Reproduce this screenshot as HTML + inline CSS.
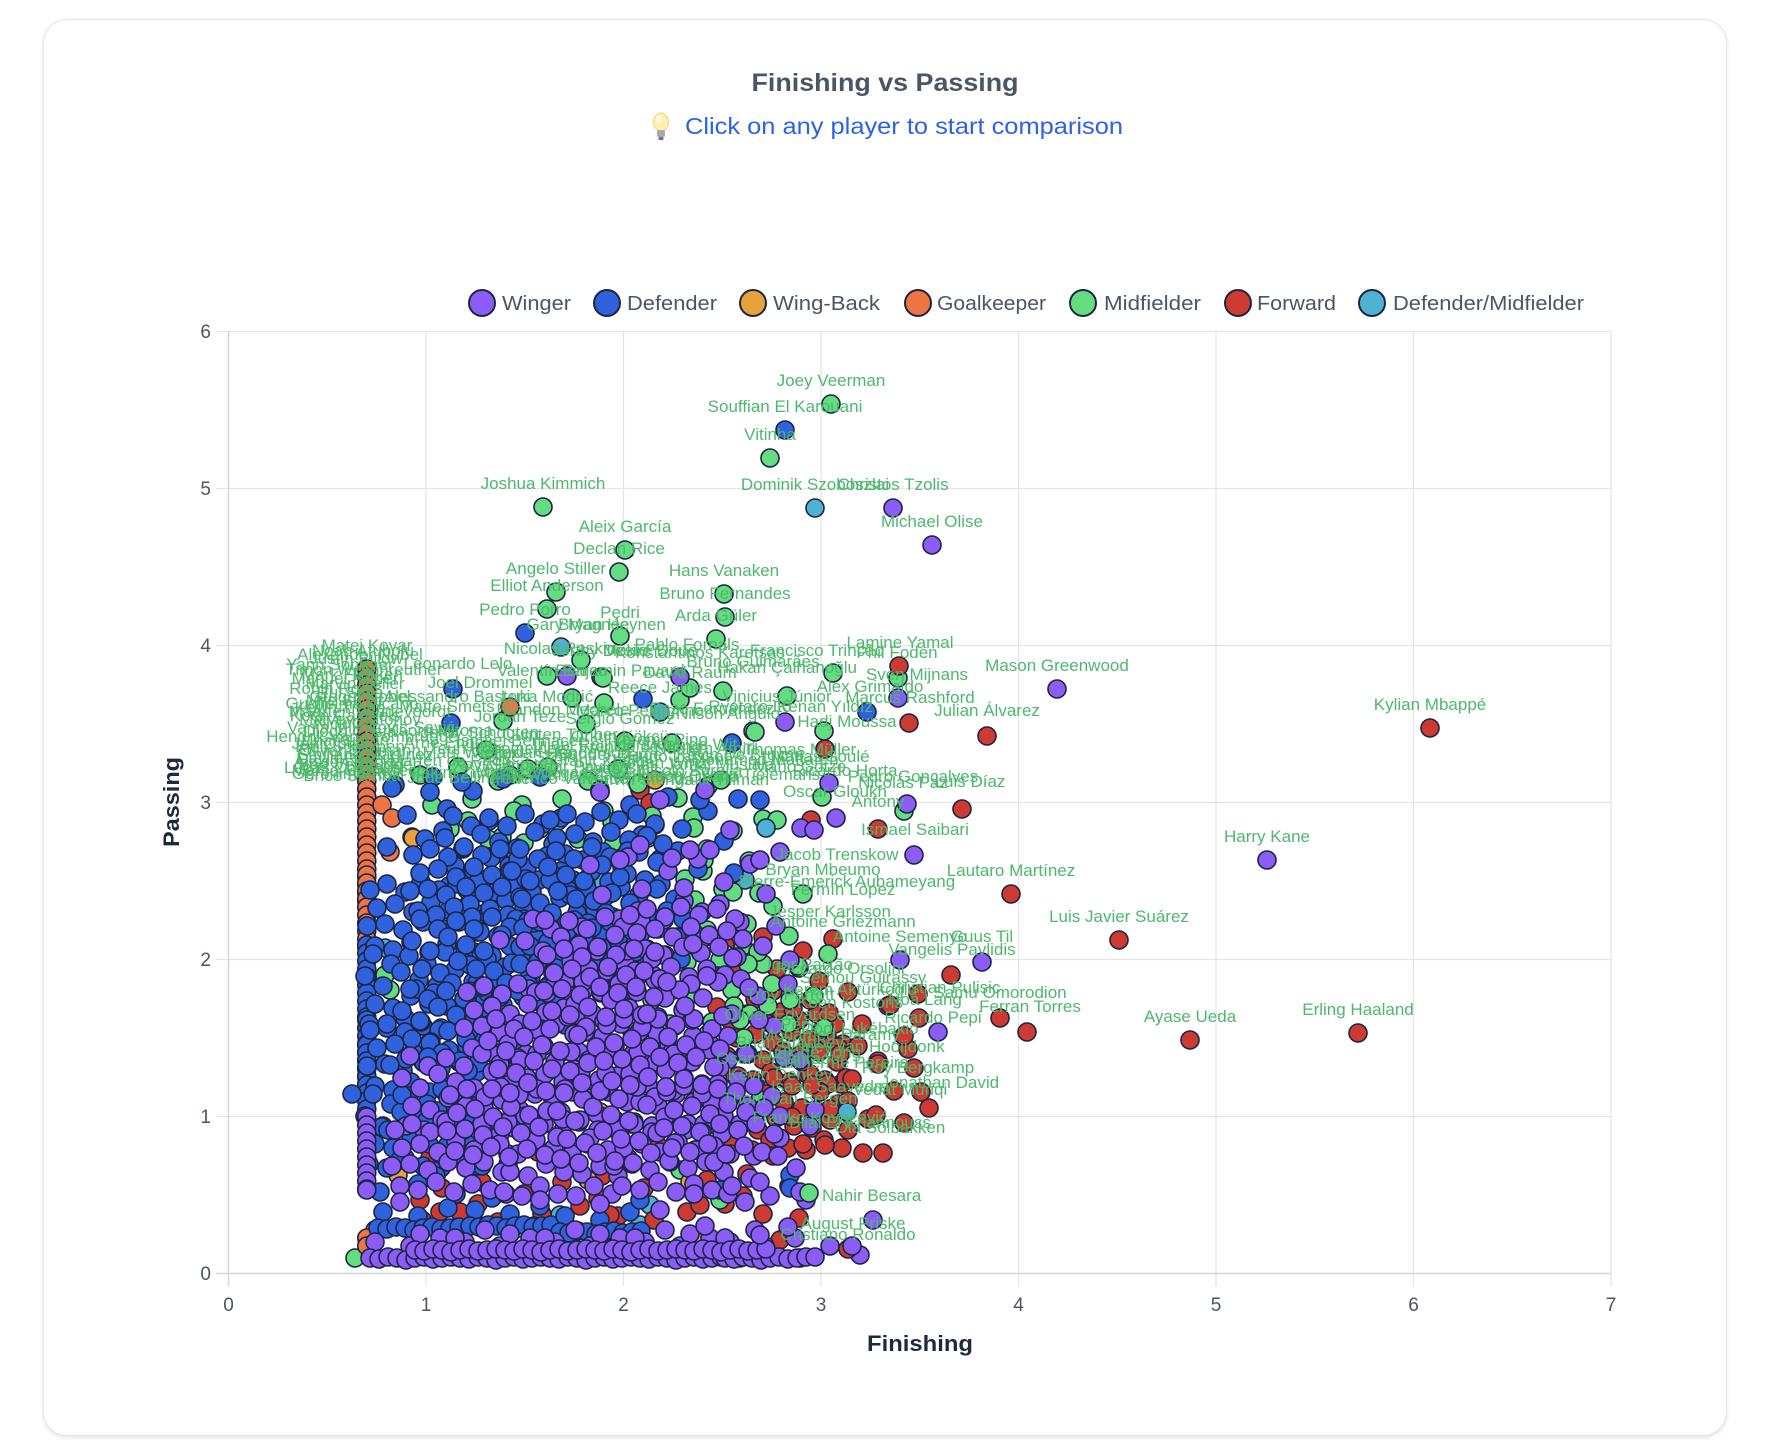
<!DOCTYPE html>
<html>
<head>
<meta charset="utf-8">
<style>
html,body{margin:0;padding:0;background:#ffffff;}
body{width:1766px;height:1454px;position:relative;overflow:hidden;font-family:"Liberation Sans","DejaVu Sans",sans-serif;}
.card{position:absolute;left:43px;top:19px;width:1682px;height:1415px;border-radius:24px;background:#fff;border:1px solid #e3e5e9;box-shadow:0 2px 5px rgba(0,0,0,0.10);}
svg{position:absolute;left:0;top:0;}
</style>
</head>
<body>
<div class="card"></div>
<svg width="1766" height="1454" viewBox="0 0 1766 1454" xmlns="http://www.w3.org/2000/svg" xmlns:xlink="http://www.w3.org/1999/xlink" font-family="Liberation Sans, DejaVu Sans, sans-serif">
<defs>
<g id="A">
<circle cx="-55" cy="-30" r="9"/><circle cx="-38" cy="-36" r="9"/><circle cx="-20" cy="-28" r="9"/><circle cx="-4" cy="-38" r="9"/><circle cx="14" cy="-30" r="9"/><circle cx="32" cy="-36" r="9"/><circle cx="50" cy="-26" r="9"/>
<circle cx="-48" cy="-12" r="9"/><circle cx="-30" cy="-16" r="9"/><circle cx="-12" cy="-8" r="9"/><circle cx="6" cy="-18" r="9"/><circle cx="24" cy="-10" r="9"/><circle cx="42" cy="-14" r="9"/><circle cx="58" cy="-6" r="9"/>
<circle cx="-58" cy="6" r="9"/><circle cx="-40" cy="4" r="9"/><circle cx="-22" cy="10" r="9"/><circle cx="-2" cy="2" r="9"/><circle cx="16" cy="8" r="9"/><circle cx="34" cy="2" r="9"/><circle cx="52" cy="12" r="9"/>
<circle cx="-50" cy="26" r="9"/><circle cx="-32" cy="30" r="9"/><circle cx="-14" cy="22" r="9"/><circle cx="4" cy="32" r="9"/><circle cx="22" cy="24" r="9"/><circle cx="40" cy="30" r="9"/><circle cx="56" cy="34" r="9"/>
</g>
<g id="B">
<circle cx="-52" cy="-36" r="9"/><circle cx="-34" cy="-26" r="9"/><circle cx="-16" cy="-34" r="9"/><circle cx="2" cy="-26" r="9"/><circle cx="20" cy="-38" r="9"/><circle cx="38" cy="-28" r="9"/><circle cx="56" cy="-34" r="9"/>
<circle cx="-60" cy="-14" r="9"/><circle cx="-42" cy="-4" r="9"/><circle cx="-24" cy="-18" r="9"/><circle cx="-6" cy="-10" r="9"/><circle cx="12" cy="-4" r="9"/><circle cx="30" cy="-20" r="9"/><circle cx="48" cy="-8" r="9"/>
<circle cx="-50" cy="14" r="9"/><circle cx="-32" cy="18" r="9"/><circle cx="-14" cy="6" r="9"/><circle cx="4" cy="14" r="9"/><circle cx="22" cy="16" r="9"/><circle cx="40" cy="8" r="9"/><circle cx="58" cy="18" r="9"/>
<circle cx="-56" cy="34" r="9"/><circle cx="-38" cy="38" r="9"/><circle cx="-20" cy="28" r="9"/><circle cx="-2" cy="36" r="9"/><circle cx="16" cy="38" r="9"/><circle cx="34" cy="28" r="9"/><circle cx="52" cy="36" r="9"/>
</g>
<g id="S">
<circle cx="-50" cy="-30" r="9"/><circle cx="-12" cy="-38" r="9"/><circle cx="28" cy="-24" r="9"/><circle cx="58" cy="-36" r="9"/><circle cx="-38" cy="0" r="9"/><circle cx="2" cy="-6" r="9"/><circle cx="44" cy="6" r="9"/><circle cx="-58" cy="32" r="9"/><circle cx="-20" cy="24" r="9"/><circle cx="18" cy="34" r="9"/><circle cx="54" cy="38" r="9"/><circle cx="-2" cy="16" r="9"/>
</g>
<g id="K">
<circle cx="0" cy="0" r="9"/><circle cx="0" cy="8" r="9"/><circle cx="0" cy="16" r="9"/><circle cx="0" cy="24" r="9"/><circle cx="0" cy="32" r="9"/><circle cx="0" cy="40" r="9"/><circle cx="0" cy="48" r="9"/><circle cx="0" cy="56" r="9"/><circle cx="0" cy="64" r="9"/><circle cx="0" cy="72" r="9"/>
</g>
<g id="W">
<circle cx="5" cy="-16" r="9"/><circle cx="40" cy="-12" r="9"/><circle cx="70" cy="-20" r="9"/>
<circle cx="0" cy="0" r="9"/><circle cx="9" cy="1" r="9"/><circle cx="18" cy="-1" r="9"/><circle cx="27" cy="0" r="9"/><circle cx="36" cy="2" r="9"/><circle cx="45" cy="0" r="9"/><circle cx="54" cy="-1" r="9"/><circle cx="63" cy="1" r="9"/><circle cx="72" cy="0" r="9"/><circle cx="81" cy="-1" r="9"/>
</g>
</defs>

<!-- title -->
<text x="885" y="91" text-anchor="middle" font-size="25" font-weight="bold" fill="#4b5563" textLength="267" lengthAdjust="spacingAndGlyphs">Finishing vs Passing</text>
<!-- bulb -->
<ellipse cx="661" cy="122" rx="7.5" ry="9" fill="#fdf1b0" stroke="#f1d37a" stroke-width="1"/>
<ellipse cx="659" cy="119" rx="3" ry="4" fill="#fffbe3"/>
<rect x="657" y="130" width="8" height="7" rx="1.5" fill="#a9abb0"/>
<rect x="658.5" y="137" width="5" height="3" rx="1" fill="#6b7280"/>
<text x="685" y="134" font-size="23" fill="#2b62e8" textLength="438" lengthAdjust="spacingAndGlyphs">Click on any player to start comparison</text>

<!-- legend -->
<g stroke="#1c2542" stroke-width="2">
<circle cx="482" cy="303" r="13" fill="#8b5cf6"/>
<circle cx="607" cy="303" r="13" fill="#3062de"/>
<circle cx="753" cy="303" r="13" fill="#e9a23b"/>
<circle cx="918" cy="303" r="13" fill="#ef7444"/>
<circle cx="1083" cy="303" r="13" fill="#64dd80"/>
<circle cx="1238" cy="303" r="13" fill="#cd3a31"/>
<circle cx="1372" cy="303" r="13" fill="#4fb2d2"/>
</g>
<g font-size="20" fill="#4b5563">
<text x="502" y="310" textLength="69" lengthAdjust="spacingAndGlyphs">Winger</text>
<text x="627" y="310" textLength="90" lengthAdjust="spacingAndGlyphs">Defender</text>
<text x="773" y="310" textLength="107" lengthAdjust="spacingAndGlyphs">Wing-Back</text>
<text x="937" y="310" textLength="109" lengthAdjust="spacingAndGlyphs">Goalkeeper</text>
<text x="1104" y="310" textLength="97" lengthAdjust="spacingAndGlyphs">Midfielder</text>
<text x="1257" y="310" textLength="79" lengthAdjust="spacingAndGlyphs">Forward</text>
<text x="1393" y="310" textLength="191" lengthAdjust="spacingAndGlyphs">Defender/Midfielder</text>
</g>

<!-- grid -->
<g stroke="#e4e5e8" stroke-width="1.3">
<line x1="426" y1="331" x2="426" y2="1286"/>
<line x1="623.5" y1="331" x2="623.5" y2="1286"/>
<line x1="821" y1="331" x2="821" y2="1286"/>
<line x1="1018.5" y1="331" x2="1018.5" y2="1286"/>
<line x1="1216" y1="331" x2="1216" y2="1286"/>
<line x1="1413.5" y1="331" x2="1413.5" y2="1286"/>
<line x1="1611" y1="331" x2="1611" y2="1286"/>
<line x1="216" y1="331.5" x2="1611" y2="331.5"/>
<line x1="216" y1="488.5" x2="1611" y2="488.5"/>
<line x1="216" y1="645.5" x2="1611" y2="645.5"/>
<line x1="216" y1="802.5" x2="1611" y2="802.5"/>
<line x1="216" y1="959.5" x2="1611" y2="959.5"/>
<line x1="216" y1="1116.5" x2="1611" y2="1116.5"/>
</g>
<g stroke="#d3d5d9" stroke-width="1.5">
<line x1="228.5" y1="331" x2="228.5" y2="1286"/>
<line x1="216" y1="1273.5" x2="1611" y2="1273.5"/>
</g>

<!-- ticks -->
<g font-size="19" fill="#4b5563" text-anchor="end">
<text x="211" y="338">6</text>
<text x="211" y="495">5</text>
<text x="211" y="652">4</text>
<text x="211" y="809">3</text>
<text x="211" y="966">2</text>
<text x="211" y="1123">1</text>
<text x="211" y="1280">0</text>
</g>
<g font-size="19" fill="#4b5563" text-anchor="middle">
<text x="228.5" y="1311">0</text>
<text x="426" y="1311">1</text>
<text x="623.5" y="1311">2</text>
<text x="821" y="1311">3</text>
<text x="1018.5" y="1311">4</text>
<text x="1216" y="1311">5</text>
<text x="1413.5" y="1311">6</text>
<text x="1611" y="1311">7</text>
</g>
<text x="920" y="1351" text-anchor="middle" font-size="22" font-weight="bold" fill="#1e293b" textLength="106" lengthAdjust="spacingAndGlyphs">Finishing</text>
<text transform="translate(179,802) rotate(-90)" x="0" y="0" text-anchor="middle" font-size="22" font-weight="bold" fill="#1e293b" textLength="90" lengthAdjust="spacingAndGlyphs">Passing</text>

<!-- dense cloud -->
<g stroke="#1c2542" stroke-width="1.6">
<!-- Defender/Midfielder -->
<g fill="#4fb2d2">
<circle cx="560" cy="1215" r="9"/><circle cx="640" cy="1225" r="9"/><circle cx="700" cy="1040" r="9"/><circle cx="680" cy="900" r="9"/><circle cx="600" cy="880" r="9"/><circle cx="500" cy="980" r="9"/><circle cx="420" cy="1225" r="9"/><circle cx="470" cy="1222" r="9"/><circle cx="612" cy="1228" r="9"/><circle cx="745" cy="880" r="9"/><circle cx="650" cy="1205" r="9"/><circle cx="385" cy="948" r="9"/>
</g>
<!-- Forward -->
<use href="#A" x="785" y="1050" fill="#cd3a31"/>
<use href="#B" x="790" y="1112" fill="#cd3a31"/>
<use href="#S" x="850" y="1085" fill="#cd3a31"/>
<use href="#S" x="860" y="1030" fill="#cd3a31"/>
<use href="#S" x="775" y="975" fill="#cd3a31"/>
<use href="#S" x="745" y="1180" fill="#cd3a31"/>
<use href="#S" x="600" y="1182" fill="#cd3a31"/>
<use href="#S" x="480" y="1188" fill="#cd3a31"/>
<g fill="#cd3a31">
<circle cx="440" cy="1212" r="9"/><circle cx="480" cy="1226" r="9"/><circle cx="420" cy="1200" r="9"/><circle cx="610" cy="1215" r="9"/><circle cx="740" cy="1258" r="9"/><circle cx="770" cy="1256" r="9"/><circle cx="700" cy="1255" r="9"/><circle cx="650" cy="1250" r="9"/><circle cx="800" cy="1258" r="9"/><circle cx="780" cy="1240" r="9"/><circle cx="700" cy="1205" r="9"/><circle cx="640" cy="790" r="9"/><circle cx="650" cy="803" r="9"/>
</g>
<!-- Midfielder -->
<use href="#S" x="705" y="855" fill="#64dd80"/>
<use href="#S" x="745" y="930" fill="#64dd80"/>
<use href="#S" x="770" y="990" fill="#64dd80"/>
<use href="#S" x="560" y="805" fill="#64dd80"/>
<use href="#S" x="470" y="805" fill="#64dd80"/>
<use href="#S" x="650" y="822" fill="#64dd80"/>
<use href="#S" x="690" y="1000" fill="#64dd80"/>
<g fill="#64dd80">
<circle cx="547" cy="676" r="9"/><circle cx="572" cy="698" r="9"/><circle cx="586" cy="724" r="9"/><circle cx="601" cy="677" r="9"/><circle cx="604" cy="703" r="9"/><circle cx="625" cy="741" r="9"/><circle cx="680" cy="700" r="9"/><circle cx="723" cy="691" r="9"/><circle cx="753" cy="731" r="9"/><circle cx="486" cy="750" r="9"/><circle cx="503" cy="721" r="9"/><circle cx="672" cy="743" r="9"/><circle cx="721" cy="780" r="9"/><circle cx="680" cy="1170" r="9"/><circle cx="560" cy="1226" r="9"/><circle cx="598" cy="1230" r="9"/><circle cx="355" cy="1258" r="9"/><circle cx="520" cy="1228" r="9"/><circle cx="760" cy="1100" r="9"/><circle cx="790" cy="1000" r="9"/><circle cx="740" cy="1020" r="9"/><circle cx="700" cy="1090" r="9"/><circle cx="385" cy="975" r="9"/><circle cx="390" cy="990" r="9"/><circle cx="720" cy="1200" r="9"/>
</g>
<!-- Goalkeeper -->
<use href="#K" x="366.75" y="669" fill="#ef7444"/>
<use href="#K" x="366.75" y="749" fill="#ef7444"/>
<use href="#K" x="366.75" y="829" fill="#ef7444"/>
<use href="#K" x="366.75" y="875" fill="#ef7444"/>
<g fill="#ef7444">
<circle cx="382" cy="805" r="9"/><circle cx="392" cy="818" r="9"/><circle cx="390" cy="852" r="9"/><circle cx="375" cy="1230" r="9"/><circle cx="366.75" cy="1238" r="9"/><circle cx="366.75" cy="1246" r="9"/>
</g>
<!-- Wing-Back -->
<g fill="#e9a23b">
<circle cx="620" cy="935" r="9"/><circle cx="693" cy="935" r="9"/><circle cx="705" cy="937" r="9"/><circle cx="520" cy="1040" r="9"/><circle cx="430" cy="1042" r="9"/><circle cx="600" cy="1112" r="9"/><circle cx="690" cy="1182" r="9"/><circle cx="700" cy="1240" r="9"/><circle cx="470" cy="1030" r="9"/><circle cx="413" cy="838" r="9"/><circle cx="655" cy="780" r="9"/><circle cx="520" cy="870" r="9"/><circle cx="712" cy="975" r="9"/><circle cx="398" cy="1175" r="9"/><circle cx="588" cy="1180" r="9"/>
</g>
<!-- Defender -->
<use href="#K" x="366.75" y="945" fill="#3062de"/>
<use href="#K" x="366.75" y="1020" fill="#3062de"/>
<use href="#K" x="366.75" y="1045" fill="#3062de"/>
<use href="#S" x="680" y="835" fill="#3062de"/>
<use href="#S" x="445" y="815" fill="#3062de"/>
<use href="#B" x="505" y="852" fill="#3062de"/>
<use href="#A" x="605" y="850" fill="#3062de"/>
<use href="#A" x="425" y="920" fill="#3062de"/>
<use href="#B" x="530" y="918" fill="#3062de"/>
<use href="#A" x="625" y="925" fill="#3062de"/>
<use href="#B" x="425" y="990" fill="#3062de"/>
<use href="#A" x="525" y="995" fill="#3062de"/>
<use href="#A" x="425" y="1060" fill="#3062de"/>
<use href="#B" x="425" y="1130" fill="#3062de"/>
<use href="#A" x="468" y="885" fill="#3062de"/>
<use href="#B" x="572" y="885" fill="#3062de"/>
<use href="#B" x="472" y="955" fill="#3062de"/>
<use href="#A" x="578" y="958" fill="#3062de"/>
<use href="#B" x="462" y="1025" fill="#3062de"/>
<use href="#S" x="440" y="1095" fill="#3062de"/>
<use href="#S" x="438" y="1160" fill="#3062de"/>
<use href="#W" x="378" y="1228" fill="#3062de"/>
<use href="#W" x="470" y="1226" fill="#3062de"/>
<use href="#W" x="560" y="1232" fill="#3062de"/>
<g fill="#3062de">
<circle cx="462" cy="782" r="9"/><circle cx="540" cy="777" r="9"/><circle cx="600" cy="790" r="9"/><circle cx="430" cy="792" r="9"/><circle cx="392" cy="788" r="9"/><circle cx="352" cy="1094" r="9"/><circle cx="700" cy="800" r="9"/><circle cx="720" cy="1190" r="9"/><circle cx="790" cy="1175" r="9"/><circle cx="790" cy="1188" r="9"/><circle cx="640" cy="1200" r="9"/><circle cx="760" cy="800" r="9"/>
</g>
<!-- Winger -->
<use href="#K" x="366.75" y="1117" fill="#8b5cf6"/>
<use href="#S" x="640" y="895" fill="#8b5cf6"/>
<use href="#S" x="722" y="888" fill="#8b5cf6"/>
<use href="#B" x="585" y="955" fill="#8b5cf6"/>
<use href="#A" x="685" y="945" fill="#8b5cf6"/>
<use href="#A" x="522" y="1022" fill="#8b5cf6"/>
<use href="#B" x="635" y="1018" fill="#8b5cf6"/>
<use href="#S" x="730" y="1020" fill="#8b5cf6"/>
<use href="#B" x="462" y="1092" fill="#8b5cf6"/>
<use href="#A" x="575" y="1090" fill="#8b5cf6"/>
<use href="#B" x="690" y="1088" fill="#8b5cf6"/>
<use href="#A" x="450" y="1160" fill="#8b5cf6"/>
<use href="#B" x="560" y="1158" fill="#8b5cf6"/>
<use href="#A" x="672" y="1160" fill="#8b5cf6"/>
<use href="#S" x="752" y="1162" fill="#8b5cf6"/>
<use href="#A" x="505" y="1125" fill="#8b5cf6"/>
<use href="#B" x="617" y="1125" fill="#8b5cf6"/>
<use href="#A" x="722" y="1122" fill="#8b5cf6"/>
<use href="#B" x="548" y="1055" fill="#8b5cf6"/>
<use href="#A" x="662" y="1055" fill="#8b5cf6"/>
<use href="#A" x="602" y="985" fill="#8b5cf6"/>
<use href="#S" x="705" y="982" fill="#8b5cf6"/>
<use href="#W" x="370" y="1258" fill="#8b5cf6"/>
<use href="#W" x="460" y="1258" fill="#8b5cf6"/>
<use href="#W" x="550" y="1258" fill="#8b5cf6"/>
<use href="#W" x="640" y="1258" fill="#8b5cf6"/>
<use href="#W" x="725" y="1258" fill="#8b5cf6"/>
<use href="#W" x="415" y="1250" fill="#8b5cf6"/>
<use href="#W" x="505" y="1250" fill="#8b5cf6"/>
<use href="#W" x="595" y="1250" fill="#8b5cf6"/>
<use href="#W" x="685" y="1250" fill="#8b5cf6"/>
<g fill="#8b5cf6">
<circle cx="366.75" cy="1190" r="9"/><circle cx="690" cy="850" r="9"/><circle cx="640" cy="845" r="9"/><circle cx="730" cy="830" r="9"/><circle cx="660" cy="800" r="9"/><circle cx="600" cy="792" r="9"/><circle cx="760" cy="860" r="9"/><circle cx="545" cy="920" r="9"/><circle cx="500" cy="940" r="9"/><circle cx="620" cy="860" r="9"/><circle cx="705" cy="790" r="9"/>
<circle cx="760" cy="1182" r="9"/><circle cx="800" cy="1192" r="9"/><circle cx="745" cy="1202" r="9"/><circle cx="400" cy="1202" r="9"/><circle cx="540" cy="1200" r="9"/><circle cx="600" cy="1204" r="9"/><circle cx="660" cy="1210" r="9"/><circle cx="705" cy="1226" r="9"/><circle cx="830" cy="1246" r="9"/><circle cx="860" cy="1255" r="9"/><circle cx="815" cy="1257" r="9"/><circle cx="815" cy="1110" r="9"/><circle cx="800" cy="1060" r="9"/><circle cx="790" cy="960" r="9"/><circle cx="760" cy="1235" r="9"/>
</g>
</g>

<!-- notable points -->
<g stroke="#1c2542" stroke-width="1.6">
<g fill="#64dd80">
<circle cx="831" cy="404" r="9"/><circle cx="770" cy="458" r="9"/><circle cx="543" cy="507" r="9"/><circle cx="625" cy="550" r="9"/><circle cx="619" cy="572" r="9"/><circle cx="724" cy="594" r="9"/><circle cx="556" cy="592" r="9"/><circle cx="547" cy="609" r="9"/><circle cx="725" cy="617" r="9"/><circle cx="620" cy="636" r="9"/><circle cx="716" cy="639" r="9"/><circle cx="898" cy="678" r="9"/><circle cx="787" cy="696" r="9"/><circle cx="833" cy="673" r="9"/><circle cx="755" cy="732" r="9"/><circle cx="824" cy="731" r="9"/><circle cx="809" cy="1193" r="9"/><circle cx="690" cy="688" r="9"/><circle cx="822" cy="797" r="9"/><circle cx="904" cy="811" r="9"/><circle cx="777" cy="820" r="9"/><circle cx="603" cy="678" r="9"/><circle cx="581" cy="660" r="9"/>
</g>
<g fill="#3062de">
<circle cx="785" cy="430" r="9"/><circle cx="525" cy="633" r="9"/><circle cx="867" cy="712" r="9"/><circle cx="732" cy="743" r="9"/><circle cx="453" cy="689" r="9"/><circle cx="451" cy="723" r="9"/><circle cx="643" cy="699" r="9"/>
</g>
<g fill="#4fb2d2">
<circle cx="815" cy="508" r="9"/><circle cx="561" cy="647" r="9"/><circle cx="660" cy="712" r="9"/><circle cx="766" cy="828" r="9"/><circle cx="847" cy="1112" r="9"/>
</g>
<g fill="#ef7444">
<circle cx="510" cy="707" r="9"/>
</g>
<g fill="#cd3a31">
<circle cx="1430" cy="728" r="9"/><circle cx="899" cy="666" r="9"/><circle cx="987" cy="736" r="9"/><circle cx="909" cy="723" r="9"/><circle cx="1011" cy="894" r="9"/><circle cx="1119" cy="940" r="9"/><circle cx="1190" cy="1040" r="9"/><circle cx="1358" cy="1033" r="9"/><circle cx="1000" cy="1018" r="9"/><circle cx="1027" cy="1032" r="9"/><circle cx="962" cy="809" r="9"/><circle cx="878" cy="829" r="9"/><circle cx="825" cy="749" r="9"/><circle cx="951" cy="975" r="9"/><circle cx="825" cy="1145" r="9"/><circle cx="863" cy="1153" r="9"/><circle cx="883" cy="1153" r="9"/><circle cx="929" cy="1108" r="9"/><circle cx="921" cy="1092" r="9"/><circle cx="876" cy="1115" r="9"/><circle cx="811" cy="820" r="9"/><circle cx="848" cy="1249" r="9"/><circle cx="919" cy="1018" r="9"/><circle cx="890" cy="1005" r="9"/>
</g>
<g fill="#8b5cf6">
<circle cx="893" cy="508" r="9"/><circle cx="932" cy="545" r="9"/><circle cx="1057" cy="689" r="9"/><circle cx="1267" cy="860" r="9"/><circle cx="914" cy="855" r="9"/><circle cx="982" cy="962" r="9"/><circle cx="900" cy="960" r="9"/><circle cx="898" cy="698" r="9"/><circle cx="785" cy="722" r="9"/><circle cx="873" cy="1220" r="9"/><circle cx="788" cy="1227" r="9"/><circle cx="852" cy="1246" r="9"/><circle cx="829" cy="783" r="9"/><circle cx="836" cy="818" r="9"/><circle cx="907" cy="804" r="9"/><circle cx="801" cy="828" r="9"/><circle cx="814" cy="830" r="9"/><circle cx="938" cy="1032" r="9"/><circle cx="567" cy="676" r="9"/><circle cx="680" cy="677" r="9"/>
</g>
</g>

<!-- labels -->
<g font-size="17" fill="#4db86c" text-anchor="middle" font-family="Liberation Sans, DejaVu Sans, sans-serif">
<text x="831" y="386">Joey Veerman</text>
<text x="785" y="412">Souffian El Karouani</text>
<text x="770" y="440">Vitinha</text>
<text x="815" y="490">Dominik Szoboszlai</text>
<text x="893" y="490">Christos Tzolis</text>
<text x="932" y="527">Michael Olise</text>
<text x="543" y="489">Joshua Kimmich</text>
<text x="625" y="532">Aleix García</text>
<text x="619" y="554">Declan Rice</text>
<text x="724" y="576">Hans Vanaken</text>
<text x="556" y="574">Angelo Stiller</text>
<text x="547" y="591">Elliot Anderson</text>
<text x="725" y="599">Bruno Fernandes</text>
<text x="525" y="615">Pedro Porro</text>
<text x="620" y="618">Pedri</text>
<text x="716" y="621">Arda Güler</text>
<text x="578" y="630">Gary Magnée</text>
<text x="612" y="630">Bryan Heynen</text>
<text x="1057" y="671">Mason Greenwood</text>
<text x="1430" y="710">Kylian Mbappé</text>
<text x="900" y="648">Lamine Yamal</text>
<text x="897" y="658">Phil Foden</text>
<text x="817" y="656">Francisco Trincão</text>
<text x="687" y="650">Pablo Fornals</text>
<text x="560" y="654">Nicolas Raskin</text>
<text x="600" y="656">Jorthy Mokio</text>
<text x="650" y="656">Désiré Doué</text>
<text x="700" y="658">Konstantinos Karetsas</text>
<text x="917" y="680">Sven Mijnans</text>
<text x="787" y="673">Hakan Çalhanoğlu</text>
<text x="753" y="667">Bruno Guimarães</text>
<text x="552" y="676">Valentín Barco</text>
<text x="620" y="676">Benjamin Pavard</text>
<text x="690" y="678">David Raum</text>
<text x="870" y="692">Alex Grimaldo</text>
<text x="660" y="693">Reece James</text>
<text x="480" y="688">Joel Drommel</text>
<text x="458" y="669">Leonardo Lelo</text>
<text x="910" y="703">Marcus Rashford</text>
<text x="777" y="702">Vinicius Júnior</text>
<text x="547" y="702">Luka Modrić</text>
<text x="457" y="702">Alessandro Bastoni</text>
<text x="750" y="712">Ryotaro Ito</text>
<text x="825" y="712">Kenan Yıldız</text>
<text x="563" y="715">Brandon Mechele</text>
<text x="447" y="712">Matte Smets</text>
<text x="640" y="716">Marco Pellegrino</text>
<text x="712" y="714">Enzo Fernández</text>
<text x="728" y="719">Nilson Angulo</text>
<text x="987" y="716">Julian Álvarez</text>
<text x="847" y="727">Hadj Moussa</text>
<text x="620" y="724">Sergio Gómez</text>
<text x="520" y="722">Jordan Teze</text>
<!-- goalkeeper column -->
<text x="367" y="651">Matej Kovar</text>
<text x="363" y="656">Noah Atubolu</text>
<text x="360" y="660">Alexander Nübel</text>
<text x="356" y="664">Justin Bijlow</text>
<text x="340" y="670">Yann Sommer</text>
<text x="364" y="675">Timon Wellenreuther</text>
<text x="352" y="680">Mark Flekken</text>
<text x="345" y="684">Manuel Neuer</text>
<text x="355" y="689">Marvin Keller</text>
<text x="336" y="694">Robin Roefs</text>
<text x="350" y="698">Rui Silva</text>
<text x="360" y="702">Gregor Kobel</text>
<text x="345" y="706">Mile Svilar</text>
<text x="352" y="709">Guglielmo Vicario</text>
<text x="340" y="713">Kevin Trapp</text>
<text x="370" y="717">Maarten Vandevoordt</text>
<text x="345" y="721">Koen Casteels</text>
<text x="360" y="725">Matvey Safonov</text>
<text x="345" y="729">Nick Olij</text>
<text x="371" y="733">Vanja Milinković-Savić</text>
<text x="350" y="737">Diogo Costa</text>
<text x="362" y="742">Hendrik Van Crombrugge</text>
<text x="345" y="746">Unai Simón</text>
<text x="330" y="749">Jan Oblak</text>
<text x="350" y="752">Kjell Scherpen</text>
<text x="360" y="756">Oliver Baumann</text>
<text x="365" y="760">Emiliano Martínez</text>
<text x="340" y="764">David Raya</text>
<text x="350" y="767">Alisson Becker</text>
<text x="360" y="770">Bart Verbruggen</text>
<text x="345" y="773">Lucas Chevalier</text>
<text x="365" y="776">Marco Carnesecchi</text>
<text x="348" y="779">Gerónimo Rulli</text>
<text x="352" y="781">Brice Samba</text>
<!-- dense band -->
<text x="440" y="736">Kaoru Mitoma</text>
<text x="480" y="738">Jerdy Schouten</text>
<text x="560" y="740">Quinten Timber</text>
<text x="620" y="742">Orkun Kökçü</text>
<text x="660" y="745">Yeremy Pino</text>
<text x="520" y="746">Ismael Bennacer</text>
<text x="450" y="748">Arne Engels</text>
<text x="690" y="750">Mees de Wit</text>
<text x="590" y="750">Tijjani Reijnders</text>
<text x="640" y="752">Frenkie de Jong</text>
<text x="500" y="754">Teun Koopmeiners</text>
<text x="705" y="754">Nadiem Amiri</text>
<text x="800" y="755">Thomas Müller</text>
<text x="470" y="758">Mats Wieffer</text>
<text x="560" y="758">Jordan Henderson</text>
<text x="610" y="760">Sander Berge</text>
<text x="740" y="760">Kevin De Bruyne</text>
<text x="680" y="762">Hugo Larsson</text>
<text x="530" y="762">Ellyes Skhiri</text>
<text x="820" y="762">Matías Soulé</text>
<text x="765" y="765">Mohamed Ihattaren</text>
<text x="450" y="766">Marten de Roon</text>
<text x="600" y="766">Granit Xhaka</text>
<text x="660" y="768">Florian Wirtz</text>
<text x="720" y="770">Jamal Musiala</text>
<text x="500" y="770">Xavi Simons</text>
<text x="560" y="772">Aleksandar Pavlović</text>
<text x="800" y="772">Mario Götze</text>
<text x="620" y="774">Kees Smit</text>
<text x="690" y="776">Nicolò Barella</text>
<text x="845" y="776">Ricardo Horta</text>
<text x="460" y="778">Hakim Ziyech</text>
<text x="540" y="778">Martin Ødegaard</text>
<text x="610" y="780">Warren Zaïre-Emery</text>
<text x="760" y="780">Youri Tielemans</text>
<text x="680" y="782">Amadou Onana</text>
<text x="470" y="783">Jude Bellingham</text>
<text x="560" y="784">Federico Valverde</text>
<text x="640" y="785">Calvin Stengs</text>
<text x="720" y="785">Malik Tillman</text>
<!-- mid-right -->
<text x="913" y="782">Pedro Gonçalves</text>
<text x="903" y="788">Nicolás Paz</text>
<text x="970" y="787">Luis Díaz</text>
<text x="835" y="797">Oscar Gloukh</text>
<text x="878" y="807">Antony</text>
<text x="915" y="835">Ismael Saibari</text>
<text x="837" y="860">Jacob Trenskow</text>
<text x="823" y="875">Bryan Mbeumo</text>
<text x="1011" y="876">Lautaro Martínez</text>
<text x="847" y="887">Pierre-Emerick Aubameyang</text>
<text x="843" y="895">Fermín López</text>
<text x="830" y="917">Jesper Karlsson</text>
<text x="1119" y="922">Luis Javier Suárez</text>
<text x="843" y="927">Antoine Griezmann</text>
<text x="900" y="942">Antoine Semenyo</text>
<text x="982" y="942">Guus Til</text>
<text x="952" y="955">Vangelis Pavlidis</text>
<text x="1267" y="842">Harry Kane</text>
<text x="810" y="970">Igor Paixão</text>
<text x="840" y="974">Riccardo Orsolini</text>
<text x="863" y="983">Serhou Guirassy</text>
<text x="940" y="993">Christian Pulisic</text>
<text x="850" y="995">Kerem Aktürkoğlu</text>
<text x="1000" y="998">Samu Omorodion</text>
<text x="790" y="1000">Troy Parrott</text>
<text x="925" y="1005">Noa Lang</text>
<text x="850" y="1008">Koen Kostons</text>
<text x="1030" y="1012">Ferran Torres</text>
<text x="790" y="1020">Oliver Edvardsen</text>
<text x="933" y="1023">Ricardo Pepi</text>
<text x="1190" y="1022">Ayase Ueda</text>
<text x="1358" y="1015">Erling Haaland</text>
<text x="800" y="1030">Pepê</text>
<text x="860" y="1034">Dodi Lukébakio</text>
<text x="830" y="1040">Mohamed Daramy</text>
<text x="790" y="1048">Brian Brobbey</text>
<text x="860" y="1052">Sydney van Hooijdonk</text>
<text x="810" y="1058">Luuk de Jong</text>
<text x="780" y="1064">Osame Sahraoui</text>
<text x="840" y="1068">Guilherme Pereira</text>
<text x="918" y="1073">Roy Bergkamp</text>
<text x="780" y="1080">Kevin Denkey</text>
<text x="940" y="1088">Jonathan David</text>
<text x="830" y="1092">Isaac Saavedra</text>
<text x="900" y="1095">Vedat Muriqi</text>
<text x="790" y="1104">Thom van Bergen</text>
<text x="820" y="1123">Franko Kovačević</text>
<text x="860" y="1128">Bilal El Khannouss</text>
<text x="890" y="1133">Ola Solbakken</text>
<text x="822" y="1201" text-anchor="start">Nahir Besara</text>
<text x="853" y="1229">August Priske</text>
<text x="848" y="1240">Cristiano Ronaldo</text>
</g>
</svg>
</body>
</html>
